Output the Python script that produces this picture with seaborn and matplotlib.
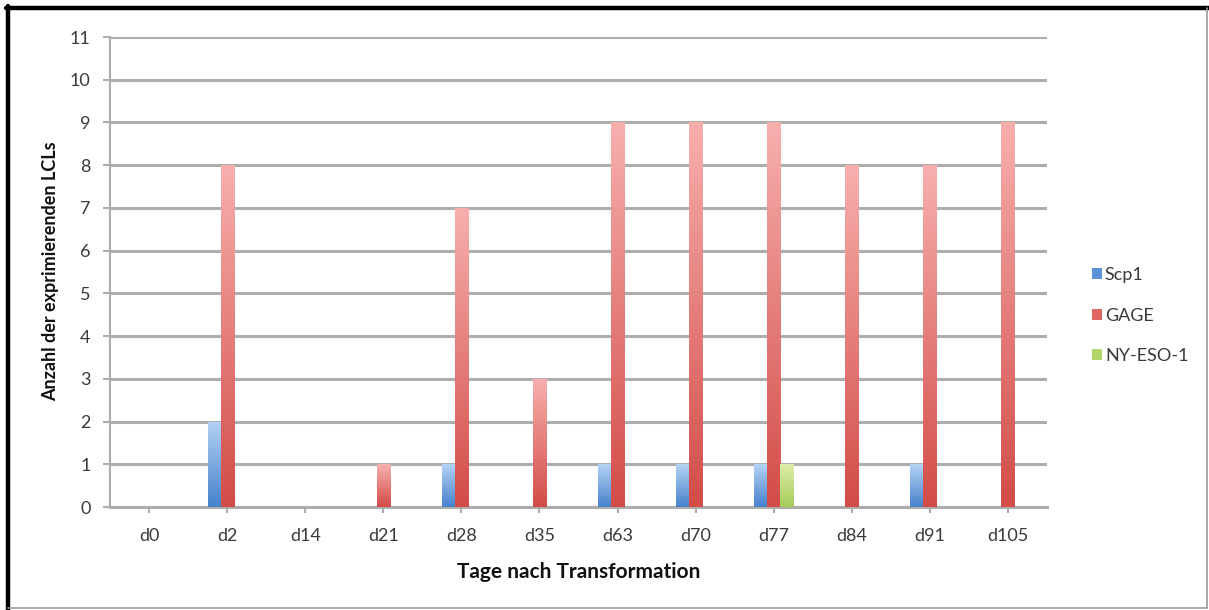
import numpy as np
import pandas as pd
import matplotlib
matplotlib.use("Agg")
import matplotlib.pyplot as plt
import matplotlib.colors as mcolors
from matplotlib.patches import Patch
from matplotlib.lines import Line2D
import seaborn as sns

# Data
days = ["d0", "d2", "d14", "d21", "d28", "d35", "d63", "d70", "d77", "d84", "d91", "d105"]
scp1 = [0, 2, 0, 0, 1, 0, 1, 1, 1, 0, 1, 0]
gage = [0, 8, 0, 1, 7, 3, 9, 9, 9, 8, 8, 9]
ny_eso1 = [0, 0, 0, 0, 0, 0, 0, 0, 1, 0, 0, 0]
series_names = ["Scp1", "GAGE", "NY-ESO-1"]
y_ticks = list(range(0, 12))

df = pd.DataFrame({"Tag": days, "Scp1": scp1, "GAGE": gage, "NY-ESO-1": ny_eso1})
long = df.melt(id_vars="Tag", var_name="Antigen", value_name="Anzahl")

# top / bottom colours of the shaded bars
shades = {
    "Scp1": ("#b4d2f4", "#4682cc"),
    "GAGE": ("#f7b0ae", "#d24c48"),
    "NY-ESO-1": ("#dcecaa", "#a6cc58"),
}
legend_cols = {"Scp1": "#5b93d8", "GAGE": "#e06664", "NY-ESO-1": "#b4d46c"}

sns.set_theme(style="white")
plt.rcParams["font.family"] = ["Lato", "DejaVu Sans"]
text_col = "#3a3a3a"
grid_col = "#adadad"

W, H = 1209, 610
fig = plt.figure(figsize=(W / 100, H / 100), dpi=100)
ax = fig.add_axes([110 / W, 1 - 507 / H, 937 / W, 470 / H])

sns.barplot(data=long, x="Tag", y="Anzahl", hue="Antigen", hue_order=series_names,
            order=days, palette=legend_cols, width=0.5, ax=ax, legend=False,
            errorbar=None, zorder=3)

# replace flat fills with vertical gradients
grad = np.linspace(0, 1, 256).reshape(-1, 1)
n = len(days)
for i, patch in enumerate(list(ax.patches)):
    name = series_names[i // n]
    h = patch.get_height()
    patch.set_facecolor("none")
    patch.set_edgecolor("none")
    if h <= 0:
        continue
    x0 = patch.get_x()
    w = patch.get_width()
    cmap = mcolors.LinearSegmentedColormap.from_list(name, [shades[name][1], shades[name][0]])
    im = ax.imshow(grad, cmap=cmap, aspect="auto", extent=[x0, x0 + w, 0, h],
                   origin="lower", zorder=3, interpolation="bilinear")
    im.set_clip_path(patch)

ax.set_xlim(-0.5, n - 0.5)
ax.set_ylim(0, 11)
ax.set_yticks(y_ticks)
ax.set_yticklabels([str(t) for t in y_ticks])
ax.yaxis.grid(True, color=grid_col, linewidth=2.2, zorder=0)
ax.set_axisbelow(True)

for s in ["top", "right"]:
    ax.spines[s].set_visible(False)
ax.spines["left"].set_color(grid_col)
ax.spines["left"].set_linewidth(1.5)
ax.spines["bottom"].set_color(grid_col)
ax.spines["bottom"].set_linewidth(2.2)

ax.tick_params(axis="y", length=5, width=1.5, color=grid_col, labelsize=13,
               labelcolor=text_col, pad=9, left=True)
ax.tick_params(axis="x", length=4, width=1.5, color=grid_col, labelsize=13,
               labelcolor=text_col, pad=11, bottom=True)

ax.set_xlabel("Tage nach Transformation", fontsize=15, fontweight="bold",
              color="#111111", va="center")
ax.xaxis.set_label_coords(0.5, (507 - 572) / 470, transform=ax.transAxes)
ax.set_ylabel("Anzahl der exprimierenden LCLs", fontsize=13, fontweight="bold",
              color="#111111", va="center")
ax.yaxis.set_label_coords((51 - 110) / 937, (507 - 271) / 470, transform=ax.transAxes)

handles = [Patch(facecolor=legend_cols[s], edgecolor="none") for s in series_names]
fig.legend(handles, series_names, loc="upper left", bbox_to_anchor=(1076 / W, 1 - 251 / H),
           frameon=False, fontsize=13, handlelength=0.55, handleheight=0.55,
           handletextpad=0.15, labelspacing=1.35, labelcolor=text_col)

# outer frame: heavy black top/left, thin grey bottom/right
fig.add_artist(Line2D([8 / W, 8 / W], [0, 1 - 6 / H], transform=fig.transFigure,
                      color="black", linewidth=3.2))
fig.add_artist(Line2D([6 / W, 1], [1 - 8 / H, 1 - 8 / H], transform=fig.transFigure,
                      color="black", linewidth=3.2))
fig.add_artist(Line2D([8 / W, 1207 / W], [1 - 608 / H, 1 - 608 / H], transform=fig.transFigure,
                      color="#9a9a9a", linewidth=1.2))
fig.add_artist(Line2D([1207 / W, 1207 / W], [1 - 608 / H, 1 - 8 / H], transform=fig.transFigure,
                      color="#9a9a9a", linewidth=1.2))

fig.savefig("out.png", dpi=100, facecolor="white")
